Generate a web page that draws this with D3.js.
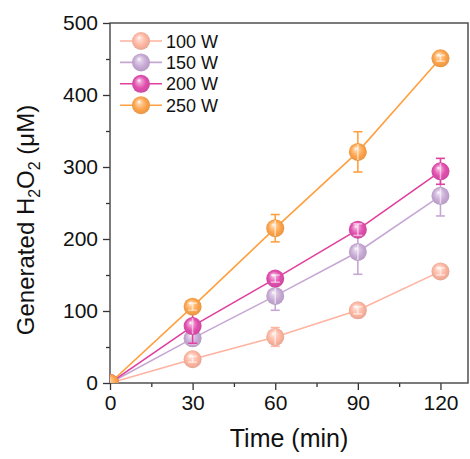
<!DOCTYPE html>
<html>
<head>
<meta charset="utf-8">
<script src="https://cdn.jsdelivr.net/npm/d3@7"></script>
<style>
  body { margin: 0; background: #fff; }
  svg text { font-family: Arial, "Liberation Sans", sans-serif; fill: #111; }
</style>
</head>
<body>
<div id="chart"></div>
<script>
// Sample times (min)
var times = [0, 30, 60, 90, 120];

// Generated H2O2 (uM) and error for each power
var seriesNames = ["100 W", "150 W", "200 W", "250 W"];
var values100 = [0, 33, 64, 101, 155];
var errors100 = [0, 4, 13, 5, 5];
var values150 = [0, 62, 121, 182, 260];
var errors150 = [0, 8, 20, 31, 28];
var values200 = [0, 79, 145, 213, 294];
var errors200 = [0, 24, 5, 8, 18];
var values250 = [0, 106, 215, 321, 451];
var errors250 = [0, 5, 19, 28, 4];

var xTicks = [0, 30, 60, 90, 120];
var yTicks = [0, 100, 200, 300, 400, 500];

var colors = ["#ffb7a2", "#c8abd6", "#e24faf", "#ffa54c"];
var lineColors = ["#ffb3a0", "#c6a7d4", "#e0409f", "#ffa040"];

var allValues = [values100, values150, values200, values250];
var allErrors = [errors100, errors150, errors200, errors250];

function createChart() {
    var margin = { top: 23, right: 2, bottom: 76, left: 110 };
    var width = 470 - margin.left - margin.right;
    var height = 459 - margin.top - margin.bottom;

    var svgRoot = d3.select("#chart")
        .append("svg")
        .attr("width", 470)
        .attr("height", 459);

    var defs = svgRoot.append("defs");

    // Clip markers to the plot frame (the origin point is cut off)
    defs.append("clipPath")
        .attr("id", "plot-clip")
        .append("rect")
        .attr("width", width)
        .attr("height", height);

    // Shiny sphere gradients for the markers
    colors.forEach(function (c, i) {
        var grad = defs.append("radialGradient")
            .attr("id", "ball" + i)
            .attr("cx", "50%").attr("cy", "50%").attr("r", "55%")
            .attr("fx", "38%").attr("fy", "30%");
        grad.append("stop").attr("offset", "0%").attr("stop-color", "#ffffff");
        grad.append("stop").attr("offset", "22%").attr("stop-color", d3.interpolateRgb("#ffffff", c)(0.55));
        grad.append("stop").attr("offset", "60%").attr("stop-color", c);
        grad.append("stop").attr("offset", "100%").attr("stop-color", d3.color(c).darker(0.35));
    });

    var svg = svgRoot.append("g")
        .attr("transform", "translate(" + margin.left + "," + margin.top + ")");

    var x = d3.scaleLinear().domain([0, 130]).range([0, width]);
    var y = d3.scaleLinear().domain([0, 500]).range([height, 0]);

    // Minor ticks
    svg.append("g")
        .attr("class", "x-minor")
        .attr("transform", "translate(0," + height + ")")
        .call(d3.axisBottom(x).tickValues([15, 45, 75, 105]).tickSize(4).tickFormat(""));
    svg.append("g")
        .attr("class", "y-minor")
        .call(d3.axisLeft(y).tickValues([50, 150, 250, 350, 450]).tickSize(4).tickFormat(""));

    // Major axes
    svg.append("g")
        .attr("class", "x-axis")
        .attr("transform", "translate(0," + height + ")")
        .call(d3.axisBottom(x).tickValues(xTicks).tickSize(7).tickPadding(5));
    svg.append("g")
        .attr("class", "y-axis")
        .call(d3.axisLeft(y).tickValues(yTicks).tickSize(7).tickPadding(5));

    svg.selectAll(".domain").remove();
    svg.selectAll(".tick line").attr("stroke", "#333").attr("stroke-width", 1.3);
    svg.selectAll(".x-axis text, .y-axis text")
        .style("font-size", "21px")
        .attr("fill", "#111");

    // Frame
    svg.append("rect")
        .attr("width", width)
        .attr("height", height)
        .attr("fill", "none")
        .attr("stroke", "#444")
        .attr("stroke-width", 1.4);

    var plot = svg.append("g").attr("clip-path", "url(#plot-clip)");
    var r = 9;

    allValues.forEach(function (vals, s) {
        var pts = times.map(function (t, i) { return { t: t, v: vals[i], e: allErrors[s][i] }; });

        plot.append("path")
            .datum(pts)
            .attr("fill", "none")
            .attr("stroke", lineColors[s])
            .attr("stroke-width", 1.6)
            .attr("d", d3.line().x(function (d) { return x(d.t); }).y(function (d) { return y(d.v); }));

        var bars = plot.append("g");
        pts.forEach(function (d) {
            if (d.e <= 0) return;
            var cx = x(d.t), top = y(d.v + d.e), bot = y(d.v - d.e);
            bars.append("line").attr("x1", cx).attr("x2", cx).attr("y1", top).attr("y2", bot);
            bars.append("line").attr("x1", cx - 4.5).attr("x2", cx + 4.5).attr("y1", top).attr("y2", top);
            bars.append("line").attr("x1", cx - 4.5).attr("x2", cx + 4.5).attr("y1", bot).attr("y2", bot);
        });
        bars.selectAll("line").attr("stroke", lineColors[s]).attr("stroke-width", 1.6);

        plot.append("g").selectAll("circle")
            .data(pts)
            .enter()
            .append("circle")
            .attr("cx", function (d) { return x(d.t); })
            .attr("cy", function (d) { return y(d.v); })
            .attr("r", r)
            .attr("fill", "url(#ball" + s + ")");

        // error bar seen through the marker, lighter
        var inner = plot.append("g").attr("stroke", "#fff").attr("stroke-opacity", 0.55).attr("stroke-width", 1.6);
        pts.forEach(function (d) {
            if (d.e <= 0) return;
            var cx = x(d.t), cy = y(d.v);
            var ePx = Math.min(y(d.v - d.e) - cy, r - 1);
            inner.append("line").attr("x1", cx).attr("x2", cx).attr("y1", cy - ePx).attr("y2", cy + ePx);
            if (y(d.v - d.e) - cy < r - 1) {
                inner.append("line").attr("x1", cx - 4.5).attr("x2", cx + 4.5).attr("y1", cy - ePx).attr("y2", cy - ePx);
                inner.append("line").attr("x1", cx - 4.5).attr("x2", cx + 4.5).attr("y1", cy + ePx).attr("y2", cy + ePx);
            }
        });
    });

    // Legend
    var legend = svg.append("g").attr("transform", "translate(10, 18)");
    seriesNames.forEach(function (name, i) {
        var row = legend.append("g").attr("transform", "translate(0," + (i * 21.4) + ")");
        row.append("line")
            .attr("x1", 0).attr("x2", 42)
            .attr("stroke", lineColors[i]).attr("stroke-width", 1.6);
        row.append("circle")
            .attr("cx", 21).attr("r", r)
            .attr("fill", "url(#ball" + i + ")");
        row.append("text")
            .attr("x", 46)
            .attr("y", 6.5)
            .style("font-size", "18px")
            .text(name);
    });

    // Axis titles
    svgRoot.append("text")
        .attr("x", margin.left + width / 2)
        .attr("y", 447)
        .attr("text-anchor", "middle")
        .style("font-size", "25px")
        .text("Time (min)");

    var yTitle = svgRoot.append("text")
        .attr("transform", "translate(34,220) rotate(-90)")
        .attr("text-anchor", "middle")
        .style("font-size", "24px");
    yTitle.append("tspan").text("Generated H");
    yTitle.append("tspan").attr("dy", 6).style("font-size", "16px").text("2");
    yTitle.append("tspan").attr("dy", -6).text("O");
    yTitle.append("tspan").attr("dy", 6).style("font-size", "16px").text("2");
    yTitle.append("tspan").attr("dy", -6).text(" (\u03bcM)");
}

createChart();
</script>
</body>
</html>
